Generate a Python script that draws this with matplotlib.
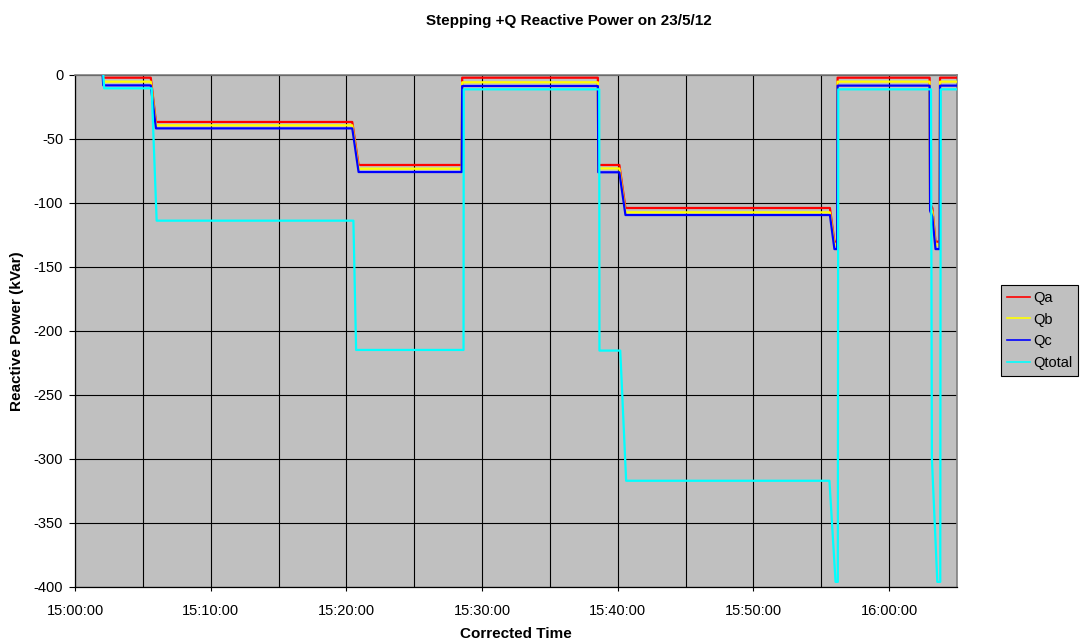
import matplotlib
matplotlib.use("Agg")
import matplotlib.pyplot as plt
import matplotlib.dates as mdates
import pandas as pd
from matplotlib.ticker import FixedLocator, FuncFormatter

plt.rcParams['font.family'] = ['Liberation Sans', 'DejaVu Sans']

DAY = "2012-05-23 "

# Per-phase reactive power (kVar) at each logged step time
phase_times = ["15:02:02", "15:02:05", "15:05:35", "15:05:58", "15:20:26", "15:20:54",
               "15:28:30", "15:28:32", "15:38:32", "15:38:34", "15:40:07", "15:40:34",
               "15:55:38", "15:55:58", "15:56:10", "15:56:12", "16:02:59", "16:03:01",
               "16:03:11", "16:03:25", "16:03:43", "16:03:45", "16:05:00"]
qa = [0, -2.1, -2.1, -36.7, -36.7, -70.3, -70.3, -2.1, -2.1, -70.3, -70.3, -103.9,
      -103.9, -130.2, -130.2, -2.1, -2.1, -100.0, -104.0, -130.2, -130.2, -2.1, -2.1]
qb = [0, -5.2, -5.2, -39.3, -39.3, -73.2, -73.2, -5.7, -5.7, -73.0, -73.0, -107.3,
      -107.3, -133.0, -133.0, -5.2, -5.2, -103.0, -107.0, -133.0, -133.0, -5.2, -5.2]
qc = [0, -8.1, -8.1, -41.7, -41.7, -75.8, -75.8, -8.6, -8.6, -76.0, -76.0, -109.4,
      -109.4, -136.0, -136.0, -8.3, -8.3, -106.0, -110.7, -136.0, -136.0, -8.3, -8.3]

# Total reactive power (kVar)
total_times = ["15:02:05", "15:02:09", "15:05:39", "15:06:01", "15:20:31", "15:20:43",
               "15:28:38", "15:28:39", "15:38:38", "15:38:39", "15:40:11", "15:40:37",
               "15:55:36", "15:56:03", "15:56:13", "15:56:15", "16:03:05", "16:03:09",
               "16:03:33", "16:03:46", "16:03:48", "16:05:00"]
qtotal = [0, -10.4, -10.4, -113.8, -113.8, -214.8, -214.8, -11.2, -11.2, -215.3, -215.3,
          -317.0, -317.0, -396.0, -396.0, -11.2, -11.2, -300.0, -396.0, -396.0, -11.2, -11.2]

series_names = ["Qa", "Qb", "Qc", "Qtotal"]
series_colors = ["#ff0000", "#ffff00", "#0000ff", "#00ffff"]

y_ticks = list(range(-400, 1, 50))

t_phase = pd.to_datetime([DAY + t for t in phase_times])
t_total = pd.to_datetime([DAY + t for t in total_times])

fig = plt.figure(figsize=(10.8, 6.44), dpi=100)
ax = fig.add_axes([75 / 1080, 1 - 587 / 644, (957 - 75) / 1080, (587 - 75) / 644])
ax.set_facecolor("#c0c0c0")

lines = []
for t, vals, name, col in [(t_phase, qa, series_names[0], series_colors[0]),
                           (t_phase, qb, series_names[1], series_colors[1]),
                           (t_phase, qc, series_names[2], series_colors[2]),
                           (t_total, qtotal, series_names[3], series_colors[3])]:
    ln, = ax.plot(t, vals, color=col, lw=1.6, label=name, zorder=3)
    lines.append(ln)

ax.set_xlim(pd.Timestamp(DAY + "15:00:00"), pd.Timestamp(DAY + "16:05:00"))
ax.set_ylim(-400, 0)

ax.xaxis.set_major_locator(mdates.MinuteLocator(byminute=[0, 10, 20, 30, 40, 50]))
ax.xaxis.set_minor_locator(mdates.MinuteLocator(byminute=list(range(0, 60, 5))))
ax.xaxis.set_major_formatter(mdates.DateFormatter("%H:%M:%S"))
ax.yaxis.set_major_locator(FixedLocator(y_ticks))
ax.yaxis.set_major_formatter(FuncFormatter(lambda v, p: f"{v:.0f}"))

ax.grid(which="major", color="black", lw=0.8, zorder=1)
ax.grid(which="minor", axis="x", color="black", lw=0.8, zorder=1)
ax.set_axisbelow(True)

ax.tick_params(axis="x", which="major", direction="out", length=3, width=0.8,
               labelsize=10.5, pad=9)
ax.tick_params(axis="x", which="minor", length=0)
ax.tick_params(axis="y", direction="out", length=4.5, width=0.8, labelsize=10.5, pad=4)

for side in ["left", "bottom"]:
    ax.spines[side].set_color("black")
    ax.spines[side].set_linewidth(0.9)
for side in ["top", "right"]:
    ax.spines[side].set_color("#808080")
    ax.spines[side].set_linewidth(1.2)

fig.text(569 / 1080, 1 - 21 / 644, "Stepping +Q Reactive Power on 23/5/12",
         ha="center", va="center", fontsize=11, fontweight="bold")
fig.text(516 / 1080, 1 - 634 / 644, "Corrected Time",
         ha="center", va="center", fontsize=11, fontweight="bold")
fig.text(17 / 1080, 1 - 331 / 644, "Reactive Power (kVar)", rotation=90,
         ha="center", va="center", fontsize=11, fontweight="bold")

leg = fig.legend(handles=lines, loc="upper right",
                 bbox_to_anchor=(1078 / 1080, 1 - 285 / 644),
                 bbox_transform=fig.transFigure, borderaxespad=0,
                 fancybox=False, frameon=True, edgecolor="black",
                 facecolor="#c0c0c0", framealpha=1, fontsize=10.5,
                 handlelength=1.6, handletextpad=0.2, labelspacing=0.53,
                 borderpad=0.4)
leg.get_frame().set_linewidth(0.8)
for h in leg.get_lines():
    h.set_linewidth(1.2)

fig.savefig("out.png", dpi=100)
